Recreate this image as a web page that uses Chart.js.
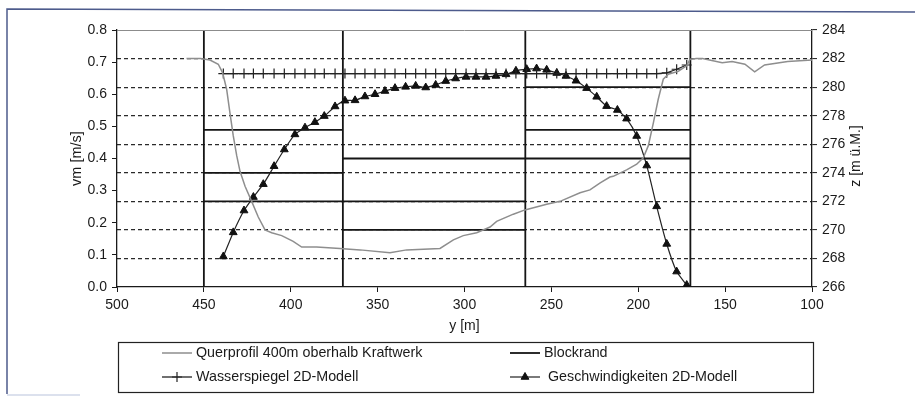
<!DOCTYPE html>
<html>
<head>
<meta charset="utf-8">
<script src="https://cdn.jsdelivr.net/npm/chart.js@4/dist/chart.umd.min.js"></script>
<style>
  html, body { margin: 0; padding: 0; background: #fff; }
  #wrap { position: relative; width: 915px; height: 396px; }
</style>
</head>
<body>
<div id="wrap"><canvas id="chart" width="915" height="396"></canvas></div>
<script>
/*********************************
 DATA
*********************************/
// Querprofil 400m oberhalb Kraftwerk (y [m], z [m ü.M.])
const profileY = [460, 452, 446.5, 441.7, 439.2, 436.9, 435, 433.1, 431.1, 429.2, 426.3, 422.5, 418.7, 414.8, 411, 405.2, 398.6, 393.7, 385.1, 371.7, 360.1, 342.9, 333.3, 314.1, 306.4, 300.7, 293, 285.3, 281.5, 271.9, 265.2, 252.7, 245, 233.5, 227.8, 221.9, 216.3, 214.4, 206.7, 200.9, 197.1, 194.2, 191.3, 188.5, 185.6, 182.7, 177, 172.1, 170.2, 166.4, 163, 151.7, 146, 138.6, 133, 127.3, 114, 100];
const profileZ = [282.0, 282.0, 281.9, 281.6, 281.0, 279.85, 278.2, 276.6, 275.2, 274.1, 273.05, 272.0, 270.9, 270.0, 269.8, 269.6, 269.2, 268.8, 268.8, 268.7, 268.6, 268.4, 268.6, 268.7, 269.3, 269.6, 269.8, 270.2, 270.6, 271.1, 271.4, 271.8, 272.0, 272.6, 272.8, 273.3, 273.7, 273.75, 274.2, 274.6, 275.05, 275.9, 277.5, 279.15, 280.55, 280.9, 281.1, 281.5, 281.95, 282.0, 282.0, 281.7, 281.8, 281.6, 281.07, 281.55, 281.8, 281.9];

// model nodes across the section (y [m])
const nodeY = [438.8, 433.1, 426.9, 421.5, 415.8, 409.6, 403.7, 397.6, 391.8, 386.1, 380.7, 374.5, 368.8, 363.0, 357.3, 351.5, 345.8, 340.0, 333.9, 328.1, 322.3, 316.6, 310.8, 305.1, 299.1, 293.4, 287.6, 281.9, 276.1, 270.4, 264.2, 258.5, 252.7, 246.9, 241.6, 235.8, 229.7, 223.9, 218.2, 212.0, 206.7, 200.9, 195.1, 189.4, 183.6, 177.9, 172.1];

// Wasserspiegel 2D-Modell (z [m ü.M.])
const waterZ = [280.95, 280.95, 280.95, 280.95, 280.95, 280.95, 280.95, 280.95, 280.95, 280.95, 280.95, 280.95, 280.95, 280.95, 280.95, 280.95, 280.95, 280.95, 280.95, 280.95, 280.95, 280.95, 280.95, 280.95, 280.95, 280.95, 280.95, 280.95, 280.95, 280.95, 280.95, 280.95, 280.95, 280.95, 280.95, 280.95, 280.95, 280.95, 280.95, 280.95, 280.95, 280.95, 280.95, 280.95, 281.0, 281.25, 281.55];

// Geschwindigkeiten 2D-Modell (vm [m/s])
const speedV = [0.095, 0.170, 0.238, 0.280, 0.320, 0.376, 0.428, 0.475, 0.496, 0.513, 0.532, 0.562, 0.580, 0.581, 0.593, 0.600, 0.610, 0.619, 0.623, 0.626, 0.621, 0.629, 0.641, 0.649, 0.654, 0.654, 0.654, 0.657, 0.662, 0.673, 0.678, 0.680, 0.676, 0.666, 0.657, 0.642, 0.619, 0.592, 0.563, 0.551, 0.524, 0.470, 0.378, 0.251, 0.134, 0.048, 0.006];

// Blockrand: block edges (y) and block levels [from y, to y, z]
const blockEdges = [450, 370, 265, 170];
const blockLevels = [[450, 370, 277], [450, 370, 274], [450, 265, 272], [370, 265, 270], [370, 170, 275], [265, 170, 280], [265, 170, 277]];

const xTicks = [500, 450, 400, 350, 300, 250, 200, 150, 100];
const vTicks = [0, 0.1, 0.2, 0.3, 0.4, 0.5, 0.6, 0.7, 0.8];
const zTicks = [266, 268, 270, 272, 274, 276, 278, 280, 282, 284];

const labels = ["Querprofil 400m oberhalb Kraftwerk", "Wasserspiegel 2D-Modell", "Blockrand", "Geschwindigkeiten 2D-Modell"];

/*********************************
 BUILD
*********************************/
const zip = (xs, ys) => xs.map((x, i) => ({ x: x, y: ys[i] }));

const blockData = [];
blockEdges.forEach(x => {
  blockData.push({ x: x, y: zTicks[0] }, { x: x, y: zTicks[zTicks.length - 1] }, { x: x, y: null });
});
blockLevels.forEach(b => {
  blockData.push({ x: b[0], y: b[2] }, { x: b[1], y: b[2] }, { x: b[1], y: null });
});

const FONT = "'Liberation Sans', Arial, sans-serif";
const INK = "#1a1a1a";

/*********************************
 PLUGINS
*********************************/
const frame = {
  id: "frame",
  beforeDraw(chart) {
    const c = chart.ctx;
    c.save();
    c.fillStyle = "#fff";
    c.fillRect(0, 0, chart.width, chart.height);
    c.strokeStyle = "#4d5b8c";
    c.lineWidth = 1.5;
    c.beginPath();
    c.moveTo(7, 394);
    c.lineTo(7, 9);
    c.lineTo(915, 12);
    c.stroke();
    c.strokeStyle = "#b9c3dc";
    c.lineWidth = 1;
    c.beginPath();
    c.moveTo(7, 395);
    c.lineTo(80, 395);
    c.stroke();
    c.restore();
  },
  afterDraw(chart) {
    const c = chart.ctx;
    const a = chart.chartArea;
    c.save();
    // plot top edge
    c.strokeStyle = "#8c8c8c";
    c.lineWidth = 1;
    c.beginPath();
    c.moveTo(a.left, a.top + 0.5);
    c.lineTo(a.right, a.top + 0.5);
    c.stroke();

    // right axis title
    c.fillStyle = INK;
    c.font = "14px " + FONT;
    c.textAlign = "center";
    c.textBaseline = "middle";
    c.translate(856, 156);
    c.rotate(-Math.PI / 2);
    c.fillText("z [m ü.M.]", 0, 0);
    c.restore();

    // legend box
    c.save();
    const L = 118, T = 342, W = 695, H = 50;
    c.strokeStyle = "#222";
    c.lineWidth = 1.2;
    c.strokeRect(L + 0.5, T + 0.5, W, H);
    c.font = "14.3px " + FONT;
    c.textBaseline = "middle";
    c.fillStyle = INK;
    const slots = [[162, 353], [162, 377], [510, 353], [510, 377]];
    chart.data.datasets.forEach((ds, i) => {
      const [sx, sy] = slots[i];
      c.strokeStyle = ds.borderColor;
      c.lineWidth = ds.borderWidth;
      c.beginPath();
      c.moveTo(sx, sy);
      c.lineTo(sx + 30, sy);
      c.stroke();
      if (ds.pointStyle && ds.pointRadius > 0) {
        c.fillStyle = ds.pointBackgroundColor;
        c.strokeStyle = ds.pointBorderColor;
        c.lineWidth = ds.pointBorderWidth;
        Chart.helpers.drawPoint(c, {
          pointStyle: ds.pointStyle,
          radius: ds.pointRadius,
          borderWidth: ds.pointBorderWidth
        }, sx + 15, sy);
      }
      c.fillStyle = INK;
      c.fillText(ds.label, sx + (i === 3 ? 38 : 34), sy);
    });
    c.restore();
  }
};

/*********************************
 CHART
*********************************/
new Chart(document.getElementById("chart"), {
  type: "line",
  data: {
    datasets: [
      {
        label: labels[0],
        data: zip(profileY, profileZ),
        yAxisID: "y2",
        borderColor: "#8e8e8e",
        borderWidth: 1.5,
        pointRadius: 0,
        tension: 0
      },
      {
        label: labels[1],
        data: zip(nodeY, waterZ),
        yAxisID: "y2",
        borderColor: "#222",
        borderWidth: 1.3,
        pointStyle: "cross",
        pointRadius: 5,
        pointBorderWidth: 1.2,
        pointBorderColor: "#222",
        pointBackgroundColor: "#222",
        tension: 0
      },
      {
        label: labels[2],
        data: blockData,
        yAxisID: "y2",
        borderColor: "#151515",
        borderWidth: 1.8,
        pointRadius: 0,
        spanGaps: false,
        tension: 0
      },
      {
        label: labels[3],
        data: zip(nodeY, speedV),
        yAxisID: "y",
        borderColor: "#222",
        borderWidth: 1.2,
        pointStyle: "triangle",
        pointRadius: 4.5,
        pointBorderWidth: 1,
        pointBorderColor: "#111",
        pointBackgroundColor: "#111",
        tension: 0.2
      }
    ]
  },
  options: {
    responsive: false,
    animation: false,
    events: [],
    layout: { padding: { left: 68, right: 0, top: 30, bottom: 60 } },
    plugins: { legend: { display: false }, tooltip: { enabled: false } },
    scales: {
      x: {
        type: "linear",
        reverse: true,
        min: 100,
        max: 500,
        afterBuildTicks: s => { s.ticks = xTicks.map(v => ({ value: v })); },
        afterFit: s => { s.height = 49; },
        ticks: { color: INK, font: { family: FONT, size: 14 }, padding: 5, maxRotation: 0 },
        grid: { drawOnChartArea: false, tickLength: 5, tickColor: INK, tickWidth: 1 },
        border: { color: INK, width: 1.3 },
        title: { display: true, text: "y [m]", color: INK, font: { family: FONT, size: 14 }, padding: { top: 0, bottom: 1 } }
      },
      y: {
        position: "left",
        min: 0,
        max: 0.8,
        afterBuildTicks: s => { s.ticks = vTicks.map(v => ({ value: v })); },
        afterFit: s => { s.width = 49; },
        ticks: { color: INK, font: { family: FONT, size: 14 }, padding: 5, callback: v => v.toFixed(1) },
        grid: { drawOnChartArea: false, tickLength: 5, tickColor: INK, tickWidth: 1 },
        border: { color: INK, width: 1.3 },
        title: { display: true, text: "vm [m/s]", color: INK, font: { family: FONT, size: 14.5 }, padding: 0 }
      },
      y2: {
        position: "right",
        min: 266,
        max: 284,
        afterBuildTicks: s => { s.ticks = zTicks.map(v => ({ value: v })); },
        afterFit: s => { s.width = 103; },
        ticks: { color: INK, font: { family: FONT, size: 14 }, padding: 5 },
        grid: {
          drawOnChartArea: true,
          color: ctx => (ctx.tick && (ctx.tick.value === 266 || ctx.tick.value === 284)) ? "rgba(0,0,0,0)" : "#2a2a2a",
          lineWidth: 1.2,
          tickLength: 5,
          tickColor: INK,
          tickWidth: 1,
          tickBorderDash: []
        },
        border: { color: INK, width: 1.3, dash: [4, 3] }
      }
    }
  },
  plugins: [frame]
});
</script>
</body>
</html>
